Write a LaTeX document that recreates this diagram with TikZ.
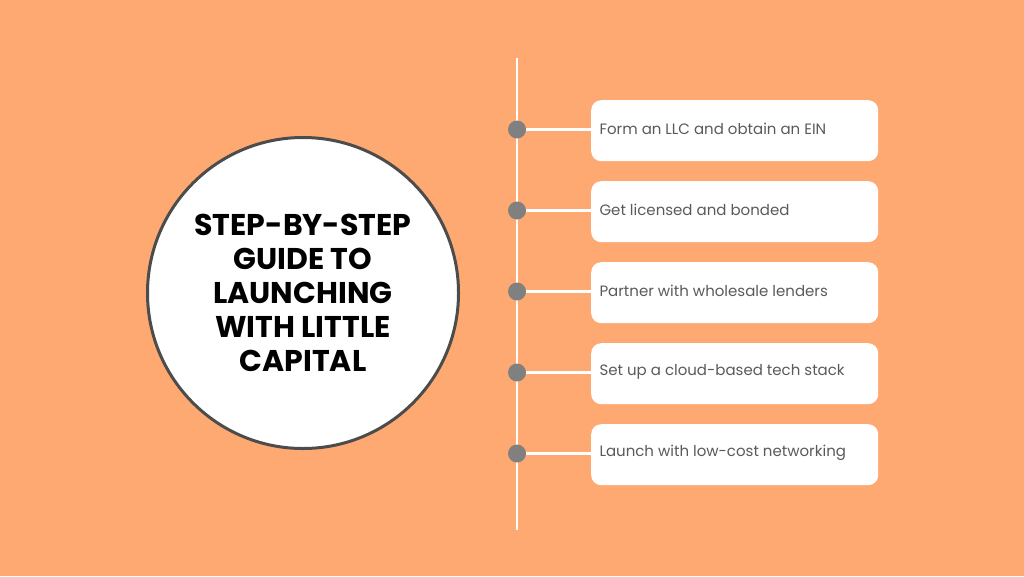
\documentclass[tikz,border=0pt]{standalone}
\usepackage{fontspec}
\setmainfont{Poppins}
\definecolor{bg}{HTML}{FFA972}
\definecolor{dot}{HTML}{808080}
\definecolor{txt}{HTML}{5A5A5A}
\begin{document}
\begin{tikzpicture}[x=1pt,y=-1pt,
  stepbox/.style={draw=none,fill=white,rounded corners=10pt,minimum width=287pt,minimum height=61pt,anchor=north west},
  steptxt/.style={anchor=west,text=txt,font=\fontsize{15}{17}\selectfont},
  dotst/.style={circle,fill=dot,minimum size=18pt,inner sep=0pt},
  conn/.style={white,line width=2.5pt}]
\fill[bg] (0,0) rectangle (1024,576);
\useasboundingbox (0,0) rectangle (1024,576);
\node[circle,fill=white,draw=black!70,line width=3pt,minimum size=311pt,inner sep=0pt] (c) at (303,293) {};
\node[align=center,font=\bfseries\fontsize{30}{34}\selectfont] (t) at (303,293) {STEP-BY-STEP\\GUIDE TO\\LAUNCHING\\WITH LITTLE\\CAPITAL};
\coordinate (top) at (517,58);
\coordinate (bot) at (517,530);
\draw[conn] (top) -- (bot);
\foreach \i/\y/\s in {1/100/Form an LLC and obtain an EIN,2/181/Get licensed and bonded,3/262/Partner with wholesale lenders,4/343/Set up a cloud-based tech stack,5/424/Launch with low-cost networking}{
  \node[stepbox] (b\i) at (591,\y) {};
  \node[steptxt] (l\i) at (596,\y+29) {\s};
  \node[dotst] (d\i) at (517,\y+29.5) {};
  \draw[conn] (d\i) -- (b\i.west |- d\i);
}
\end{tikzpicture}
\end{document}
